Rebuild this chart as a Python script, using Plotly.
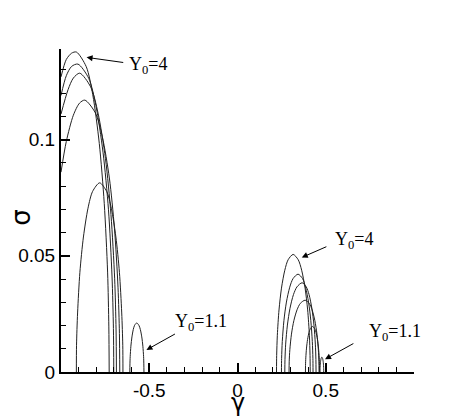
import plotly.graph_objects as go

# left group (gamma < 0), Y0 = 4 ... 1.1
L1_G = [-1.0, -0.97, -0.94, -0.913, -0.857, -0.820, -0.783, -0.755, -0.736, -0.729, -0.727]
L1_S = [0.127, 0.1345, 0.1372, 0.1377, 0.1314, 0.1193, 0.0983, 0.0726, 0.0430, 0.0194, 0.0]
L2_G = [-1.0, -0.97, -0.94, -0.904, -0.843, -0.8025, -0.762, -0.731, -0.711, -0.703, -0.701]
L2_S = [0.119, 0.1275, 0.1315, 0.1325, 0.1264, 0.1147, 0.0946, 0.0698, 0.0413, 0.0187, 0.0]
L3_G = [-1.0, -0.96, -0.93, -0.894, -0.832, -0.790, -0.748, -0.717, -0.696, -0.688, -0.686]
L3_S = [0.111, 0.1215, 0.1265, 0.1286, 0.1227, 0.1114, 0.0918, 0.0678, 0.0401, 0.0181, 0.0]
L4_G = [-1.0, -0.97, -0.93, -0.895, -0.865, -0.806, -0.766, -0.726, -0.697, -0.677, -0.669, -0.667]
L4_S = [0.086, 0.0992, 0.1105, 0.1157, 0.117, 0.1116, 0.1013, 0.0835, 0.0617, 0.0365, 0.0165, 0.0]
L5_G = [-0.913, -0.912, -0.906, -0.893, -0.873, -0.847, -0.821, -0.781, -0.741, -0.715, -0.689, -0.669, -0.656, -0.650, -0.649]
L5_S = [0.0, 0.0115, 0.0254, 0.0429, 0.0581, 0.0705, 0.0777, 0.0814, 0.0777, 0.0705, 0.0581, 0.0429, 0.0254, 0.0115, 0.0]
L6_G = [-0.610, -0.6096, -0.608, -0.604, -0.598, -0.5905, -0.583, -0.571, -0.5587, -0.5505, -0.5423, -0.5362, -0.532, -0.5306, -0.530]
L6_S = [0.0, 0.003, 0.0066, 0.0111, 0.0151, 0.0183, 0.0201, 0.0211, 0.0201, 0.0183, 0.0151, 0.0111, 0.0066, 0.003, 0.0]

# right group (gamma > 0)
R1_G = [0.221, 0.2219, 0.2257, 0.2351, 0.2492, 0.268, 0.2868, 0.315, 0.3441, 0.3635, 0.3829, 0.3975, 0.4072, 0.411, 0.412]
R1_S = [0.0, 0.0071, 0.0158, 0.0267, 0.0361, 0.0438, 0.0483, 0.0506, 0.0483, 0.0438, 0.0361, 0.0267, 0.0158, 0.0071, 0.0]
R2_G = [0.249, 0.2499, 0.2537, 0.2631, 0.2772, 0.296, 0.3148, 0.343, 0.3685, 0.3855, 0.4025, 0.4153, 0.4238, 0.4272, 0.428]
R2_S = [0.0, 0.0059, 0.0131, 0.0222, 0.0301, 0.0365, 0.0402, 0.0421, 0.0402, 0.0365, 0.0301, 0.0222, 0.0131, 0.0059, 0.0]
R3_G = [0.268, 0.269, 0.2729, 0.2827, 0.2974, 0.317, 0.3366, 0.366, 0.3897, 0.4055, 0.4213, 0.4332, 0.4411, 0.4442, 0.445]
R3_S = [0.0, 0.0054, 0.012, 0.0202, 0.0274, 0.0333, 0.0366, 0.0384, 0.0366, 0.0333, 0.0274, 0.0202, 0.012, 0.0054, 0.0]
R4_G = [0.292, 0.2929, 0.2966, 0.3057, 0.3193, 0.3375, 0.3557, 0.383, 0.4067, 0.4225, 0.4383, 0.4502, 0.4581, 0.4612, 0.462]
R4_S = [0.0, 0.0044, 0.0096, 0.0163, 0.0221, 0.0268, 0.0295, 0.0309, 0.0295, 0.0268, 0.0221, 0.0163, 0.0096, 0.0044, 0.0]
R5_G = [0.385, 0.3854, 0.387, 0.391, 0.397, 0.405, 0.413, 0.425, 0.437, 0.445, 0.453, 0.459, 0.463, 0.4646, 0.465]
R5_S = [0.0, 0.0028, 0.0061, 0.0103, 0.014, 0.017, 0.0187, 0.0196, 0.0187, 0.017, 0.014, 0.0103, 0.0061, 0.0028, 0.0]
R6_G = [0.4675, 0.4676, 0.468, 0.4691, 0.4707, 0.4728, 0.4749, 0.478, 0.4811, 0.4833, 0.4854, 0.4869, 0.488, 0.4884, 0.4885]
R6_S = [0.0, 0.0009, 0.002, 0.0034, 0.0046, 0.0055, 0.0061, 0.0064, 0.0061, 0.0055, 0.0046, 0.0034, 0.002, 0.0009, 0.0]

CURVES = [(L1_G, L1_S), (L2_G, L2_S), (L3_G, L3_S), (L4_G, L4_S), (L5_G, L5_S), (L6_G, L6_S),
          (R1_G, R1_S), (R2_G, R2_S), (R3_G, R3_S), (R4_G, R4_S), (R5_G, R5_S), (R6_G, R6_S)]

X_TICKS = [-0.5, 0, 0.5]
X_TICKTEXT = ['-0.5', '0', '0.5']
Y_TICKS = [0, 0.05, 0.1]
Y_TICKTEXT = ['0', '0.05', '0.1']

# labels: (text, x, y) and arrows: (tail x, tail y, head x, head y)
LABELS = [('Y<sub>0</sub>=4', -0.627, 0.1317), ('Y<sub>0</sub>=4', 0.54, 0.0568),
          ('Y<sub>0</sub>=1.1', -0.366, 0.0215), ('Y<sub>0</sub>=1.1', 0.731, 0.0168)]
ARROWS = [(-0.639, 0.1331, -0.855, 0.1354), (0.512, 0.0542, 0.364, 0.0493),
          (-0.346, 0.0167, -0.516, 0.0095), (0.665, 0.0126, 0.496, 0.0055)]

fig = go.Figure()
for g, s in CURVES:
    fig.add_trace(go.Scatter(x=g, y=s, mode='lines', line=dict(color='#222', width=1, shape='spline', smoothing=0.8),
                             showlegend=False, hoverinfo='skip'))

for txt, x, y in LABELS:
    fig.add_annotation(x=x, y=y, text=txt, showarrow=False, xanchor='left', yanchor='middle',
                       font=dict(family='Liberation Serif', size=18, color='black'))
for tx, ty, hx, hy in ARROWS:
    fig.add_annotation(x=hx, y=hy, ax=tx, ay=ty, axref='x', ayref='y', text='', showarrow=True,
                       arrowhead=2, arrowsize=1.2, arrowwidth=1, arrowcolor='black')

# axis titles
fig.add_annotation(x=0.5, y=-0.096, xref='paper', yref='paper', text='γ', showarrow=False,
                   xanchor='center', yanchor='middle', font=dict(family='DejaVu Sans', size=24, color='black'))
fig.add_annotation(x=-0.114, y=0.477, xref='paper', yref='paper', text='σ', showarrow=False, textangle=-90,
                   xanchor='center', yanchor='middle', font=dict(family='DejaVu Sans', size=26, color='black'))

# the page body has an 8px margin, so the plot area is shifted back by 8px
fig.update_layout(width=471, height=419, plot_bgcolor='white', paper_bgcolor='white',
                  margin=dict(l=53, r=65, t=41, b=55),
                  font=dict(family='Liberation Sans', size=19, color='black'))
fig.update_xaxes(range=[-1, 1], tickvals=X_TICKS, ticktext=X_TICKTEXT, ticks='inside', ticklen=9, tickwidth=2,
                 tickcolor='black', showline=True, linecolor='black', linewidth=2, showgrid=False, zeroline=False,
                 automargin=False,
                 minor=dict(dtick=0.1, tick0=0, ticks='inside', ticklen=5, tickwidth=1, tickcolor='black', showgrid=False))
fig.update_yaxes(range=[0, 0.139], tickvals=Y_TICKS, ticktext=Y_TICKTEXT, ticks='inside', ticklen=9, tickwidth=2,
                 tickcolor='black', showline=True, linecolor='black', linewidth=2, showgrid=False, zeroline=False,
                 automargin=False,
                 minor=dict(dtick=0.01, tick0=0, ticks='inside', ticklen=5, tickwidth=1, tickcolor='black', showgrid=False))

fig.write_html("out.html")
